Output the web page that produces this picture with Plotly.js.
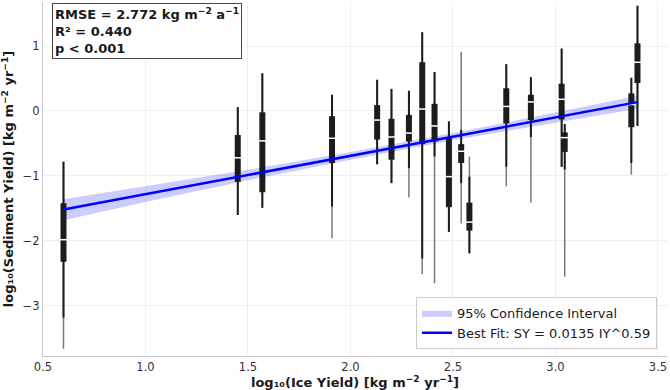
<!DOCTYPE html>
<html>
<head>
<meta charset="utf-8">
<script src="https://cdn.plot.ly/plotly-3.0.1.min.js"></script>
<style>
  html, body { margin: 0; padding: 0; background: #fff; }
  #chart { width: 670px; height: 390px; }
</style>
</head>
<body>
<div id="chart"></div>
<script>
// Station positions on the log10(ice yield) axis
const xPos    = [0.60, 1.45, 1.57, 1.91, 2.13, 2.20, 2.285, 2.35, 2.41, 2.48, 2.54, 2.58, 2.76, 2.88, 3.03, 3.045, 3.37, 3.40];
// Full range of log10(sediment yield) per station
const rangeHi = [-0.78, 0.06, 0.58, 0.25, 0.48, 0.34, 0.31, 1.21, 0.60, -0.16, 0.91, -0.70, 0.72, 0.52, 0.96, -0.20, 0.51, 1.62];
const rangeLo = [-3.66, -1.60, -1.49, -1.96, -0.82, -1.11, -1.33, -2.51, -2.65, -1.86, -1.73, -2.19, -1.16, -1.41, -0.86, -2.55, -0.98, -0.23];
// Whiskers
const whiskHi = [-0.78, 0.06, 0.58, 0.25, 0.48, 0.34, 0.31, 1.21, 0.60, -0.16, -0.29, -1.01, 0.72, 0.52, 0.96, -0.20, 0.51, 1.62];
const whiskLo = [-3.18, -1.60, -1.49, -1.47, -0.82, -1.11, -0.88, -2.27, -0.70, -1.86, -1.11, -2.19, -0.86, -0.40, -0.86, -0.90, -0.80, -0.23];
// Quartiles and medians
const q3      = [-1.42, -0.37, -0.02, -0.08, 0.09, -0.12, -0.06, 0.75, 0.11, -0.40, -0.51, -1.41, 0.35, 0.25, 0.42, -0.33, 0.27, 1.04];
const median  = [-1.98, -0.72, -0.46, -0.42, -0.14, -0.40, -0.34, 0.03, -0.23, -1.01, -0.62, -1.71, 0.07, 0.14, 0.18, -0.41, 0.10, 0.75];
const q1      = [-2.32, -1.09, -1.25, -0.80, -0.44, -0.75, -0.47, -0.51, -0.47, -1.48, -0.80, -1.84, -0.19, -0.14, -0.13, -0.63, -0.25, 0.43];

// Power-law fit SY = 0.0135 IY^0.59 (linear in log-log space)
const fitCoef = 0.0135;
const fitExp = 0.59;
const fitX = [0.60, 3.40];

// 95% confidence band of the fit
const ciX     = [0.60, 1.00, 1.50, 2.00, 2.50, 3.00, 3.40];
const ciUpper = [-1.36, -1.16, -0.905, -0.63, -0.34, -0.025, 0.236];
const ciLower = [-1.68, -1.40, -1.065, -0.75, -0.45, -0.175, 0.036];

function segments(lo, hi) {
  const xs = [], ys = [];
  xPos.forEach((x, i) => { xs.push(x, x, null); ys.push(lo[i], hi[i], null); });
  return { x: xs, y: ys };
}

const traces = [];

traces.push({
  type: 'scatter', mode: 'lines', name: '95% Confidence Interval',
  x: ciX.concat(ciX.slice().reverse()),
  y: ciUpper.concat(ciLower.slice().reverse()),
  fill: 'toself', fillcolor: 'rgba(0,0,255,0.2)',
  line: { width: 0, color: 'rgba(0,0,255,0)' },
  hoverinfo: 'skip'
});

const rng = segments(rangeLo, rangeHi);
traces.push({ type: 'scatter', mode: 'lines', x: rng.x, y: rng.y, showlegend: false,
  line: { color: '#7a7a7a', width: 1.5 }, hoverinfo: 'skip' });

const wh = segments(whiskLo, whiskHi);
traces.push({ type: 'scatter', mode: 'lines', x: wh.x, y: wh.y, showlegend: false,
  line: { color: '#1c1c1c', width: 2 }, hoverinfo: 'skip' });

const bx = segments(q1, q3);
traces.push({ type: 'scatter', mode: 'lines', x: bx.x, y: bx.y, showlegend: false,
  line: { color: '#1c1c1c', width: 6 }, hoverinfo: 'skip' });

traces.push({ type: 'scatter', mode: 'markers', x: xPos, y: median, showlegend: false,
  marker: { symbol: 'line-ew', size: 6, line: { color: '#ffffff', width: 1.5 } }, hoverinfo: 'skip' });

traces.push({
  type: 'scatter', mode: 'lines', name: 'Best Fit: SY = 0.0135 IY^0.59',
  x: fitX, y: fitX.map(v => Math.log10(fitCoef) + fitExp * v),
  line: { color: '#0000ff', width: 2.5 }
});

const layout = {
  width: 670, height: 390,
  margin: { l: 43, r: 3, t: 2, b: 34 },
  paper_bgcolor: '#ffffff', plot_bgcolor: '#ffffff',
  font: { family: 'DejaVu Sans', color: '#333333', size: 12 },
  showlegend: true,
  xaxis: {
    range: [0.5, 3.544], tickvals: [0.5, 1.0, 1.5, 2.0, 2.5, 3.0, 3.5],
    ticktext: ['0.5', '1.0', '1.5', '2.0', '2.5', '3.0', '3.5'],
    showgrid: true, gridcolor: '#efefef', gridwidth: 1, zeroline: false,
    showline: true, linecolor: '#c8c8c8', linewidth: 1.2,
    ticks: '', tickfont: { size: 11.5, color: '#333' },
    title: { text: '<b>log₁₀(Ice Yield) [kg m<sup>−2</sup> yr<sup>−1</sup>]</b>',
             font: { size: 13, color: '#1a1a1a' }, standoff: 2 }
  },
  yaxis: {
    range: [-3.77, 1.677], tickvals: [-3, -2, -1, 0, 1],
    showgrid: true, gridcolor: '#efefef', gridwidth: 1, zeroline: false,
    showline: true, linecolor: '#c8c8c8', linewidth: 1.2,
    ticks: '', tickfont: { size: 11.5, color: '#333' },
    title: { text: '<b>log₁₀(Sediment Yield) [kg m<sup>−2</sup> yr<sup>−1</sup>]</b>',
             font: { size: 13, color: '#1a1a1a' }, standoff: 6 }
  },
  legend: {
    x: 0.984, y: 0.02, xanchor: 'right', yanchor: 'bottom',
    bgcolor: '#ffffff', bordercolor: '#cccccc', borderwidth: 1,
    font: { size: 13, color: '#1a1a1a' }, tracegroupgap: 0
  },
  annotations: [{
    xref: 'paper', yref: 'paper', x: 0.0144, y: 0.997, xanchor: 'left', yanchor: 'top',
    align: 'left', showarrow: false,
    text: '<b>RMSE = 2.772 kg m<sup>−2</sup> a<sup>−1</sup></b><br><b>R² = 0.440</b><br><b>p &lt; 0.001</b>',
    font: { size: 13, color: '#1a1a1a' },
    bgcolor: '#ffffff', bordercolor: '#444444', borderwidth: 1, borderpad: 2
  }]
};

Plotly.newPlot('chart', traces, layout, { displayModeBar: false, staticPlot: true });
</script>
</body>
</html>
